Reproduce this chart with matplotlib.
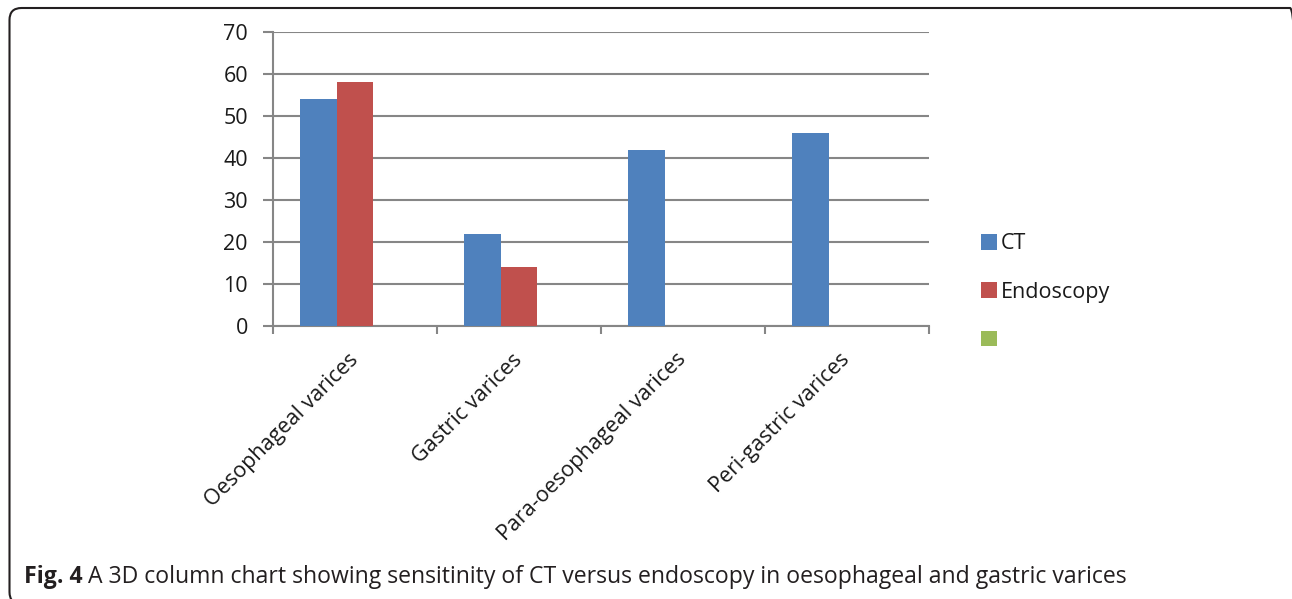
import numpy as np
import matplotlib.pyplot as plt
from matplotlib.patches import FancyBboxPatch, Patch
from matplotlib.ticker import FixedLocator

# 各部位静脉曲张的敏感度（%）
categories = ['Oesophageal varices', 'Gastric varices', 'Para-oesophageal varices', 'Peri-gastric varices']
ct_vals = [54, 22, 42, 46]
endo_vals = [58, 14, 0, 0]
series3_vals = [0, 0, 0, 0]
series_names = ['CT', 'Endoscopy', '']
colors = ['#4F81BD', '#C0504D', '#9BBB59']
yticks = [0, 10, 20, 30, 40, 50, 60, 70]
caption_bold = 'Fig. 4'
caption_text = 'A 3D column chart showing sensitinity of CT versus endoscopy in oesophageal and gastric varices'

W, H = 1292, 599
fig = plt.figure(figsize=(W / 100, H / 100), dpi=100)

# 外框（像素坐标，右侧和下侧落在图外）
bg = fig.add_axes([0, 0, 1, 1])
bg.set_xlim(0, W)
bg.set_ylim(0, H)
bg.axis('off')
bg.add_patch(FancyBboxPatch((9.5, H - 604), 1302 - 9.5, 604 - 8, boxstyle='round,pad=0,rounding_size=12',
                            fill=False, edgecolor='#231f20', lw=1.5))

ax = fig.add_axes([273 / W, 1 - 326 / H, 656 / W, 294 / H])

tick_font = ['Open Sans', 'DejaVu Sans']
fs = 15.5
grid_c = '#868686'

x = np.arange(len(categories))
w = 1 / 4.5
for i, vals in enumerate([ct_vals, endo_vals, series3_vals]):
    ax.bar(x + (i - 1) * w, vals, width=w, color=colors[i], zorder=3)

ax.set_xlim(-0.5, len(categories) - 0.5)
ax.set_ylim(0, 70)
ax.set_yticks(yticks)
ax.yaxis.grid(True, color=grid_c, lw=1.5, zorder=0)
ax.tick_params(axis='y', length=7, width=1.5, color=grid_c, pad=11, labelsize=fs)
for lab in ax.get_yticklabels():
    lab.set_family(tick_font)
    lab.set_color('#1a1a1a')

# 类别刻度线在组之间，标签在组中心
ax.xaxis.set_minor_locator(FixedLocator(np.arange(-0.5, len(categories), 1)))
ax.set_xticks(x)
ax.set_xticklabels(categories, rotation=45, ha='right', va='center', rotation_mode='anchor',
                   fontsize=fs, family=tick_font, color='#1a1a1a')
ax.tick_params(axis='x', which='major', length=0, pad=22)
ax.tick_params(axis='x', which='minor', length=6, width=1.5, color=grid_c)

for s in ['top', 'right']:
    ax.spines[s].set_visible(False)
for s in ['left', 'bottom']:
    ax.spines[s].set_color(grid_c)
    ax.spines[s].set_linewidth(1.5)

handles = [Patch(facecolor=c, edgecolor='none') for c in colors]
leg = fig.legend(handles, series_names, loc='upper left', bbox_to_anchor=(962 / W, 1 - 214 / H),
                 frameon=False, prop={'family': tick_font, 'size': fs},
                 handlelength=0.74, handleheight=0.74, handletextpad=0.15, labelspacing=1.27)
for t in leg.get_texts():
    t.set_color('#1a1a1a')

# 图注
cap_font = ['Open Sans', 'DejaVu Sans']
t1 = fig.text(24 / W, 1 - 589 / H, caption_bold, fontsize=16.6, fontweight='bold',
              family=cap_font, va='bottom', color='#231f20')
ax.annotate(caption_text, xy=(1, 0), xycoords=t1, xytext=(4, 0), textcoords='offset points',
            fontsize=16.6, family=cap_font, va='bottom', ha='left',
            color='#231f20', annotation_clip=False)

fig.savefig('out.png', dpi=100)
